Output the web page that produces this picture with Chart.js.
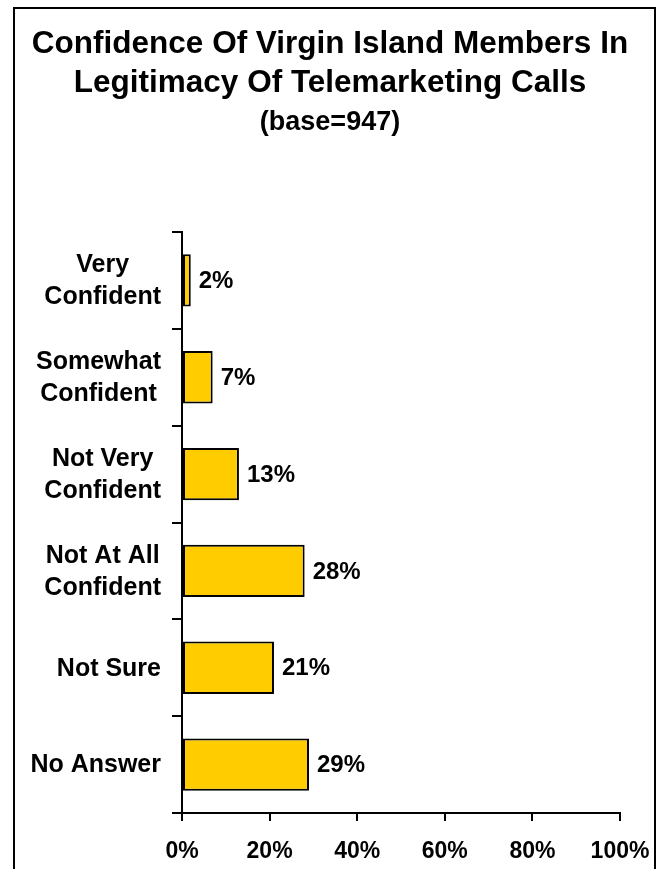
<!DOCTYPE html>
<html>
<head>
<meta charset="utf-8">
<title>Confidence Of Virgin Island Members In Legitimacy Of Telemarketing Calls</title>
<script src="https://cdn.jsdelivr.net/npm/chart.js@4"></script>
<style>
  html, body { margin: 0; padding: 0; background: #fff; overflow: hidden; }
  #frame {
    position: absolute; left: 13px; top: 7px; width: 643px; height: 900px;
    border: 2px solid #000; box-sizing: border-box;
  }
  #wrap { position: absolute; left: 0; top: 0; width: 660px; height: 869px; }
</style>
</head>
<body>
<div id="frame"></div>
<div id="wrap"><canvas id="chart" width="660" height="869"></canvas></div>
<script>
// 数据
const categories = [
  ['Very', 'Confident'],
  ['Somewhat', 'Confident'],
  ['Not Very', 'Confident'],
  ['Not At All', 'Confident'],
  ['Not Sure'],
  ['No Answer']
];
const percents = [2, 7, 13, 28, 21, 29];
const xTicks = [0, 20, 40, 60, 80, 100];

const FONT = "'Liberation Sans', Arial, sans-serif";

// 柱子右侧的百分比 + 左侧分类文字（多行居中，整体右对齐）
const barLabels = {
  id: 'barLabels',
  afterDatasetsDraw(chart) {
    const ctx = chart.ctx;
    const meta = chart.getDatasetMeta(0);
    ctx.save();
    ctx.fillStyle = '#000';
    ctx.textBaseline = 'middle';

    ctx.font = 'bold 24px ' + FONT;
    ctx.textAlign = 'left';
    meta.data.forEach(function(bar, i) {
      ctx.fillText(percents[i] + '%', bar.x + 8, bar.y + 1);
    });

    const yScale = chart.scales.y;
    ctx.font = 'bold 25px ' + FONT;
    ctx.textAlign = 'center';
    categories.forEach(function(lines, i) {
      const yc = yScale.getPixelForValue(i);
      const w = Math.max.apply(null, lines.map(l => ctx.measureText(l).width));
      const cx = yScale.right - 21 - w / 2;
      lines.forEach(function(line, j) {
        ctx.fillText(line, cx, yc + 1 + (j - (lines.length - 1) / 2) * 32);
      });
    });
    ctx.restore();
  }
};

const ctx = document.getElementById('chart').getContext('2d');
new Chart(ctx, {
  type: 'bar',
  data: {
    labels: categories.map(l => l.join(' ')),
    datasets: [{
      data: percents,
      backgroundColor: '#FFCC00',
      borderColor: '#000',
      borderWidth: 2,
      borderSkipped: false,
      categoryPercentage: 1,
      barPercentage: 0.54
    }]
  },
  options: {
    indexAxis: 'y',
    responsive: false,
    animation: false,
    layout: { padding: { left: 0, right: 0, top: 0, bottom: 5 } },
    plugins: {
      legend: { display: false },
      tooltip: { enabled: false },
      title: {
        display: true,
        text: ['Confidence Of Virgin Island Members In', 'Legitimacy Of Telemarketing Calls'],
        color: '#000',
        font: { family: FONT, size: 31.5, weight: 'bold', lineHeight: 1.24 },
        padding: { top: 24.5, bottom: 4 }
      },
      subtitle: {
        display: true,
        text: '(base=947)',
        color: '#000',
        font: { family: FONT, size: 27, weight: 'bold', lineHeight: 1.2 },
        padding: { top: 0, bottom: 93 }
      }
    },
    scales: {
      x: {
        min: xTicks[0],
        max: xTicks[xTicks.length - 1],
        afterBuildTicks: function(scale) {
          scale.ticks = xTicks.map(v => ({ value: v }));
        },
        ticks: {
          color: '#000',
          padding: 17,
          maxRotation: 0,
          font: { family: FONT, size: 23, weight: 'bold' },
          callback: function(value) { return value + '%'; }
        },
        grid: { drawOnChartArea: false, color: '#000', lineWidth: 2, tickLength: 8 },
        border: { color: '#000', width: 2 },
        afterFit: function(scale) {
          scale.height = 51;
          scale.paddingRight = 40;
        }
      },
      y: {
        ticks: { display: false },
        grid: { drawOnChartArea: false, color: '#000', lineWidth: 2, tickLength: 10 },
        border: { color: '#000', width: 2 },
        afterFit: function(scale) { scale.width = 182; }
      }
    }
  },
  plugins: [barLabels]
});
</script>
</body>
</html>
